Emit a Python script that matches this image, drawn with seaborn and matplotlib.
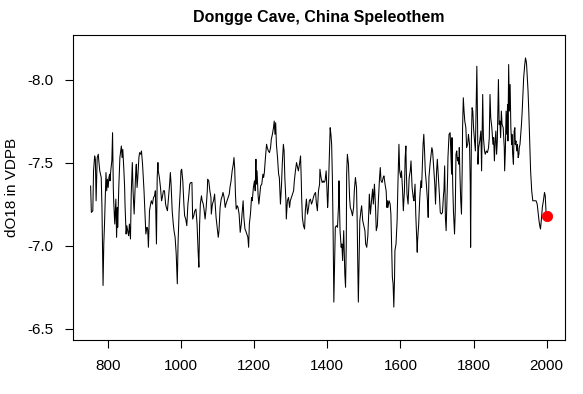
import pandas as pd
import matplotlib
matplotlib.use('Agg')
import matplotlib.pyplot as plt
import seaborn as sns

# Dongge Cave speleothem d18O record
years = [
    753, 755, 759, 761, 764, 766, 768, 771, 774, 775,
    778, 782, 784, 785, 787, 789, 791, 794, 795, 797,
    799, 801, 803, 805, 806, 808, 811, 813, 815, 816,
    819, 822, 824, 826, 827, 830, 833, 836, 837, 839,
    841, 844, 846, 847, 850, 852, 855, 857, 859, 862,
    864, 867, 869,
    872, 875, 877, 878, 880, 882, 885, 887, 890, 892,
    895, 897, 899, 902, 904, 907, 909, 911, 914, 917,
    919, 922, 925, 928, 930, 933, 935, 937, 938, 941,
    944, 947, 949, 952, 955, 958, 960, 963, 966, 969,
    971, 973, 976, 979, 981, 984, 987, 989, 990, 992,
    995, 998, 1000, 1002, 1005, 1008, 1010, 1013, 1016, 1019,
    1021, 1024, 1027, 1030, 1032, 1035, 1038,
    1041, 1044, 1047, 1049, 1051, 1053, 1056, 1058, 1061, 1063,
    1066, 1069, 1072, 1073, 1076, 1079, 1082, 1083, 1086, 1089,
    1092, 1093, 1096, 1099, 1102, 1104, 1107, 1110, 1113, 1115,
    1118, 1121, 1123, 1126, 1129, 1132, 1134, 1137, 1140, 1143,
    1145, 1147, 1149, 1151, 1154, 1156, 1159, 1162, 1165, 1167,
    1170, 1172, 1175, 1177, 1180, 1183, 1185, 1187, 1190, 1193,
    1195, 1198, 1201, 1203, 1205, 1206, 1208,
    1211, 1213, 1216, 1218, 1221, 1224, 1226, 1228, 1231, 1234,
    1236, 1239, 1242, 1245, 1247, 1250, 1253, 1255, 1257, 1259,
    1261, 1264, 1267, 1269, 1272, 1275, 1277, 1280, 1282, 1284,
    1287, 1288, 1291, 1294, 1297, 1299, 1302, 1305, 1308, 1310,
    1313, 1316, 1319, 1321, 1324, 1327, 1329, 1330, 1332, 1335,
    1338, 1340, 1343, 1346, 1349, 1351, 1354, 1357, 1360, 1362,
    1365, 1368, 1370, 1373, 1376, 1379,
    1380, 1383, 1386, 1389, 1391, 1394, 1397, 1399, 1401, 1402,
    1405, 1408, 1410, 1412, 1414, 1416, 1418, 1420, 1422, 1425,
    1428, 1431, 1432, 1435, 1438, 1440, 1442, 1445, 1448, 1450,
    1452, 1453, 1455, 1458, 1461, 1463, 1466, 1469, 1472, 1474,
    1477, 1480, 1482, 1483, 1485, 1487, 1489, 1492, 1494, 1497,
    1500, 1503, 1505, 1508, 1511, 1514, 1515, 1518, 1521, 1524,
    1526, 1529, 1532, 1534, 1537, 1540, 1543, 1545, 1547,
    1550, 1553, 1555, 1558, 1561, 1563, 1565, 1566, 1569, 1572,
    1574, 1576, 1578, 1580, 1582, 1584, 1585, 1588, 1591, 1593,
    1595, 1596, 1598, 1601, 1603, 1606, 1608, 1611, 1613, 1615,
    1616, 1618, 1621, 1624, 1627, 1629, 1632, 1635, 1637, 1640,
    1642, 1644, 1646, 1647, 1650, 1653, 1656, 1658, 1660, 1662,
    1664, 1666, 1668, 1671, 1674, 1676, 1678, 1681, 1684, 1686,
    1688, 1691, 1694, 1696, 1699, 1701, 1704, 1707, 1709, 1712,
    1715, 1718,
    1719, 1721, 1723, 1725, 1727, 1729, 1730, 1733, 1736, 1738,
    1740, 1741, 1743, 1745, 1748, 1750, 1752, 1754, 1756, 1758,
    1760, 1761, 1763, 1765, 1767, 1769, 1770, 1772, 1774, 1776,
    1779, 1781, 1784, 1786, 1789, 1791, 1792, 1794, 1796, 1798,
    1800, 1802, 1805, 1807, 1809, 1811, 1812, 1814, 1817, 1820,
    1822, 1823, 1825, 1827, 1830, 1832, 1835, 1838, 1841, 1843,
    1845, 1847, 1850, 1853, 1855, 1857, 1859, 1861, 1863, 1865,
    1868, 1870, 1872, 1874, 1876, 1878, 1881, 1884, 1885, 1887,
    1889, 1891, 1893, 1894, 1896, 1898, 1900, 1902, 1904, 1905,
    1907, 1909, 1911, 1913, 1914, 1916, 1918, 1920, 1922, 1924,
    1925, 1927, 1929, 1931, 1933, 1935, 1937, 1940, 1942, 1944,
    1945, 1947, 1949, 1951, 1953, 1955, 1956, 1959, 1962, 1966,
    1971, 1974, 1976, 1979, 1981, 1983, 1986, 1988, 1991, 1994,
    1996, 1998, 2000,
]

d18o = [
    -7.36, -7.20, -7.21, -7.45, -7.54, -7.52, -7.27, -7.53, -7.55, -7.52,
    -7.45, -7.41, -7.23, -7.07, -6.76, -7.01, -7.13, -7.37, -7.44, -7.33,
    -7.40, -7.35, -7.41, -7.43, -7.39, -7.45, -7.51, -7.68, -7.35, -7.27,
    -7.13, -7.28, -7.05, -7.23, -7.11, -7.35, -7.53, -7.58, -7.60, -7.53,
    -7.58, -7.45, -7.35, -7.25, -7.07, -7.12, -7.08, -7.06, -7.13, -7.04,
    -7.31, -7.50, -7.33,
    -7.19, -7.37, -7.47, -7.49, -7.35, -7.41, -7.53, -7.56, -7.55, -7.57,
    -7.49, -7.41, -7.33, -7.17, -7.07, -7.11, -7.10, -6.99, -7.21, -7.25,
    -7.27, -7.25, -7.29, -7.30, -7.33, -7.01, -7.41, -7.50, -7.45, -7.41,
    -7.35, -7.27, -7.29, -7.33, -7.33, -7.25, -7.23, -7.21, -7.29, -7.37,
    -7.44, -7.37, -7.21, -7.13, -7.09, -7.05, -6.95, -6.83, -6.77, -7.01,
    -7.21, -7.33, -7.45, -7.46, -7.39, -7.25, -7.18, -7.16, -7.12, -7.25,
    -7.29, -7.37, -7.38, -7.38, -7.16, -7.18, -7.21,
    -7.22, -7.13, -6.96, -6.87, -7.13, -7.25, -7.30, -7.27, -7.25, -7.22,
    -7.16, -7.23, -7.33, -7.40, -7.39, -7.33, -7.29, -7.19, -7.25, -7.27,
    -7.31, -7.27, -7.17, -7.11, -7.05, -7.09, -7.23, -7.28, -7.30, -7.32,
    -7.29, -7.23, -7.25, -7.27, -7.29, -7.31, -7.35, -7.39, -7.45, -7.49,
    -7.53, -7.46, -7.31, -7.22, -7.24, -7.23, -7.19, -7.08, -7.13, -7.19,
    -7.27, -7.17, -7.10, -7.09, -7.07, -7.05, -6.99, -7.13, -7.19, -7.29,
    -7.27, -7.35, -7.39, -7.33, -7.52, -7.37, -7.45,
    -7.30, -7.25, -7.32, -7.36, -7.37, -7.43, -7.41, -7.44, -7.53, -7.61,
    -7.59, -7.57, -7.56, -7.59, -7.64, -7.67, -7.71, -7.75, -7.67, -7.74,
    -7.61, -7.53, -7.43, -7.41, -7.25, -7.37, -7.49, -7.61, -7.57, -7.41,
    -7.27, -7.16, -7.27, -7.29, -7.23, -7.27, -7.29, -7.31, -7.33, -7.39,
    -7.45, -7.50, -7.47, -7.45, -7.49, -7.54, -7.39, -7.29, -7.17, -7.12,
    -7.10, -7.21, -7.28, -7.19, -7.23, -7.27, -7.28, -7.25, -7.27, -7.29,
    -7.31, -7.32, -7.26, -7.21, -7.33, -7.37,
    -7.46, -7.41, -7.38, -7.39, -7.38, -7.39, -7.45, -7.35, -7.23, -7.26,
    -7.49, -7.71, -7.67, -7.61, -7.41, -7.09, -6.66, -6.89, -7.11, -7.12,
    -7.11, -7.25, -7.39, -7.09, -6.99, -7.01, -6.91, -7.09, -6.83, -6.75,
    -7.01, -7.43, -7.55, -7.49, -7.29, -7.23, -7.21, -7.18, -7.23, -7.33,
    -7.41, -7.35, -7.13, -6.95, -6.66, -6.91, -7.15, -7.21, -7.24, -7.15,
    -7.12, -7.09, -7.01, -6.99, -7.06, -7.23, -7.31, -7.19, -7.27, -7.34,
    -7.25, -7.37, -7.23, -7.09, -7.12, -7.28, -7.41, -7.47, -7.39,
    -7.38, -7.41, -7.42, -7.37, -7.33, -7.23, -7.27, -7.23, -7.27, -7.25,
    -7.19, -7.01, -6.81, -6.77, -6.63, -6.81, -6.97, -7.01, -7.15, -7.35,
    -7.51, -7.61, -7.45, -7.41, -7.45, -7.33, -7.21, -7.33, -7.53, -7.60,
    -7.47, -7.31, -7.25, -7.41, -7.45, -7.51, -7.35, -7.29, -7.27, -7.37,
    -7.19, -7.07, -6.96, -7.03, -7.13, -7.29, -7.39, -7.35, -7.49, -7.61,
    -7.67, -7.57, -7.45, -7.37, -7.27, -7.17, -7.41, -7.49, -7.55, -7.59,
    -7.57, -7.47, -7.37, -7.25, -7.45, -7.52, -7.41, -7.29, -7.20, -7.19,
    -7.20, -7.31,
    -7.33, -7.48, -7.17, -7.09, -7.25, -7.41, -7.53, -7.67, -7.68, -7.55,
    -7.43, -7.65, -7.37, -7.21, -7.07, -7.21, -7.55, -7.57, -7.51, -7.53,
    -7.49, -7.59, -7.41, -7.27, -7.19, -7.47, -7.71, -7.89, -7.81, -7.75,
    -7.71, -7.59, -7.61, -7.67, -7.61, -7.37, -6.99, -7.63, -7.83, -7.81,
    -7.71, -7.65, -7.57, -7.81, -8.08, -7.73, -7.49, -7.59, -7.63, -7.69,
    -7.45, -7.61, -7.91, -7.65, -7.57, -7.55, -7.57, -7.56, -7.59, -7.65,
    -7.91, -7.77, -7.71, -7.61, -7.65, -7.51, -7.63, -7.69, -7.55, -7.63,
    -8.00, -7.73, -7.75, -7.65, -7.81, -7.73, -7.71, -7.59, -7.45, -7.57,
    -7.81, -7.67, -7.85, -7.63, -8.09, -7.81, -7.97, -7.71, -7.61, -7.67,
    -7.55, -7.49, -7.69, -7.71, -7.61, -7.63, -7.57, -7.61, -7.53, -7.55,
    -7.59, -7.61, -7.67, -7.73, -7.81, -7.91, -8.01, -8.09, -8.13, -8.11,
    -8.09, -8.01, -7.93, -7.81, -7.67, -7.53, -7.45, -7.33, -7.27, -7.27,
    -7.27, -7.25, -7.21, -7.15, -7.12, -7.10, -7.17, -7.23, -7.27, -7.32,
    -7.30, -7.21, -7.19,
]

# modern value marked in red
modern_year = [2000]
modern_d18o = [-7.18]

x_ticks = [800, 1000, 1200, 1400, 1600, 1800, 2000]
y_ticks = [-8.0, -7.5, -7.0, -6.5]

assert len(years) == len(d18o), (len(years), len(d18o))

sns.set_style('ticks')
plt.rcParams['font.family'] = ['Liberation Sans', 'DejaVu Sans']
plt.rcParams['text.color'] = 'black'
plt.rcParams['axes.labelcolor'] = 'black'

df = pd.DataFrame({'year': years, 'd18o': d18o})

fig = plt.figure(figsize=(5.83, 3.94), dpi=100)
ax = fig.add_axes([0.1247, 0.1371, 0.8444, 0.7741])

sns.lineplot(data=df, x='year', y='d18o', color='black', linewidth=0.75,
             estimator=None, ax=ax)
sns.scatterplot(x=modern_year, y=modern_d18o, color='red', edgecolor='red',
                s=55, zorder=3, ax=ax)

ax.set_xlim(704, 2050)
ax.set_ylim(-6.432, -8.268)
ax.set_xticks(x_ticks)
ax.set_yticks(y_ticks)
ax.set_yticklabels([f'{v:.1f}' for v in y_ticks])

for side in ['top', 'right', 'bottom', 'left']:
    ax.spines[side].set_visible(True)
    ax.spines[side].set_color('black')
    ax.spines[side].set_linewidth(0.8)

ax.tick_params(direction='out', length=6, width=0.8, colors='black',
               labelsize=11, pad=8)
ax.set_xlabel('')
ax.set_ylabel('dO18 in VDPB', fontsize=11)
ax.yaxis.set_label_coords(-0.11, 0.5)
ax.set_title('Dongge Cave, China Speleothem', fontsize=11.5, fontweight='bold',
             color='black', pad=9)

fig.savefig('out.png', dpi=100)
